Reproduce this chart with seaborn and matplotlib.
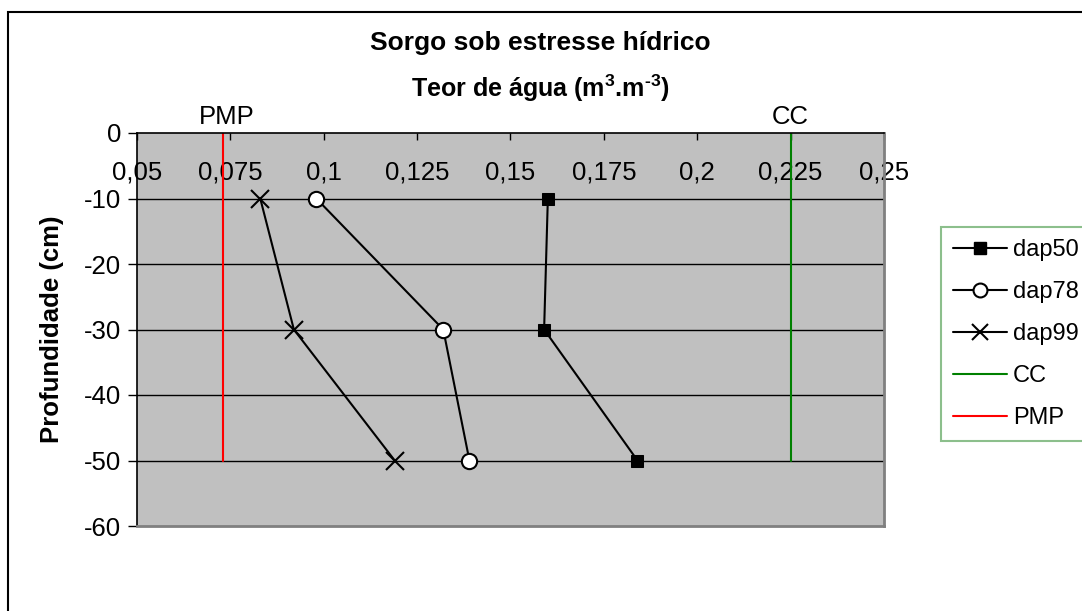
import matplotlib
matplotlib.use("Agg")
import matplotlib.pyplot as plt
import seaborn as sns
import pandas as pd
from matplotlib.patches import Rectangle
from matplotlib.lines import Line2D

# Data
depth = [-10, -30, -50]
dap50 = [0.160, 0.159, 0.184]
dap78 = [0.098, 0.132, 0.139]
dap99 = [0.083, 0.092, 0.119]
cc_value = 0.225
pmp_value = 0.073
ref_depth = [0, -50]
x_ticks = [0.05, 0.075, 0.1, 0.125, 0.15, 0.175, 0.2, 0.225, 0.25]
x_ticklabels = ["0,05", "0,075", "0,1", "0,125", "0,15", "0,175", "0,2", "0,225", "0,25"]
y_ticks = [0, -10, -20, -30, -40, -50, -60]

sns.set_style("white")
plt.rcParams['font.family'] = ['Liberation Sans', 'DejaVu Sans']
plt.rcParams['mathtext.fontset'] = 'custom'
plt.rcParams['mathtext.rm'] = 'Liberation Sans:bold'
plt.rcParams['mathtext.bf'] = 'Liberation Sans:bold'
plt.rcParams['text.color'] = 'black'
plt.rcParams['axes.labelcolor'] = 'black'
plt.rcParams['xtick.color'] = 'black'
plt.rcParams['ytick.color'] = 'black'

FS = 18.5

fig = plt.figure(figsize=(10.82, 6.11), dpi=100)
ax = fig.add_axes([137/1082, 1-526/611, (884-137)/1082, (526-133)/611])
ax.set_facecolor('#C0C0C0')

# grid lines
for yv in y_ticks[1:-1]:
    ax.axhline(yv, color='black', lw=1.0, zorder=1)

df50 = pd.DataFrame({'x': dap50, 'y': depth})
df78 = pd.DataFrame({'x': dap78, 'y': depth})
df99 = pd.DataFrame({'x': dap99, 'y': depth})
dfcc = pd.DataFrame({'x': [cc_value]*2, 'y': ref_depth})
dfpmp = pd.DataFrame({'x': [pmp_value]*2, 'y': ref_depth})

sns.lineplot(data=dfcc, x='x', y='y', sort=False, estimator=None, color='#008000', lw=1.5, ax=ax, zorder=2)
sns.lineplot(data=dfpmp, x='x', y='y', sort=False, estimator=None, color='#FF0000', lw=1.5, ax=ax, zorder=2)
sns.lineplot(data=df50, x='x', y='y', sort=False, estimator=None, color='black', lw=1.5,
             marker='s', markersize=8.5, markerfacecolor='black', markeredgecolor='black', ax=ax, zorder=3)
sns.lineplot(data=df78, x='x', y='y', sort=False, estimator=None, color='black', lw=1.5,
             marker='o', markersize=11, markerfacecolor='white', markeredgecolor='black', markeredgewidth=1.5, ax=ax, zorder=3)
sns.lineplot(data=df99, x='x', y='y', sort=False, estimator=None, color='black', lw=1.5,
             marker='x', markersize=12.5, markeredgewidth=1.5, markeredgecolor='black', ax=ax, zorder=3)

ax.set_xlim(0.05, 0.25)
ax.set_ylim(-60, 0)
ax.xaxis.tick_top()
ax.set_xticks(x_ticks)
ax.set_xticklabels(x_ticklabels)
ax.set_yticks(y_ticks)
ax.set_yticklabels([str(v) for v in y_ticks])
ax.tick_params(axis='x', direction='in', length=5, width=1, pad=-37, labelsize=FS)
ax.tick_params(axis='y', direction='out', length=6.5, width=1, pad=5, labelsize=FS, left=True)
ax.set_xlabel('')
ax.set_ylabel('Profundidade (cm)', fontsize=FS, fontweight='bold', labelpad=14)

for s in ['top', 'left']:
    ax.spines[s].set_color('black')
    ax.spines[s].set_linewidth(1.2)
for s in ['bottom', 'right']:
    ax.spines[s].set_color('#808080')
    ax.spines[s].set_linewidth(2)

fig.text(540/1082, 1-43/611, 'Sorgo sob estresse hídrico', ha='center', va='center',
         fontsize=19, fontweight='bold')
fig.text(540/1082, 1-88/611, r'Teor de água (m$^{\text{3}}$.m$^{\text{-3}}$)', ha='center', va='center',
         fontsize=18, fontweight='bold')
ax.annotate('PMP', xy=(pmp_value + 0.001, 1.0), xycoords=('data', 'axes fraction'),
            xytext=(0, 3), textcoords='offset points', ha='center', va='bottom', fontsize=FS)
ax.annotate('CC', xy=(cc_value, 1.0), xycoords=('data', 'axes fraction'),
            xytext=(0, 3), textcoords='offset points', ha='center', va='bottom', fontsize=FS)

handles = [
    Line2D([], [], color='black', lw=1.5, marker='s', markersize=8, markerfacecolor='black'),
    Line2D([], [], color='black', lw=1.5, marker='o', markersize=10, markerfacecolor='white', markeredgewidth=1.5),
    Line2D([], [], color='black', lw=1.5, marker='x', markersize=12, markeredgewidth=1.5),
    Line2D([], [], color='#008000', lw=1.5),
    Line2D([], [], color='#FF0000', lw=1.5),
]
labels = ['dap50', 'dap78', 'dap99', 'CC', 'PMP']
leg = fig.legend(handles, labels, loc='upper left', bbox_to_anchor=(941/1082, 1-227/611),
                 frameon=True, fancybox=False, fontsize=17, labelspacing=0.85,
                 handlelength=2.3, handletextpad=0.25, borderpad=0.5, borderaxespad=0)
leg.get_frame().set_edgecolor('#70B070')
leg.get_frame().set_linewidth(1.5)

fig.patches.append(Rectangle((8/1082, -0.01), 1.1, 1-12/611+0.01, transform=fig.transFigure,
                             fill=False, edgecolor='black', lw=1.5, zorder=0))

fig.savefig('out.png', dpi=100)
